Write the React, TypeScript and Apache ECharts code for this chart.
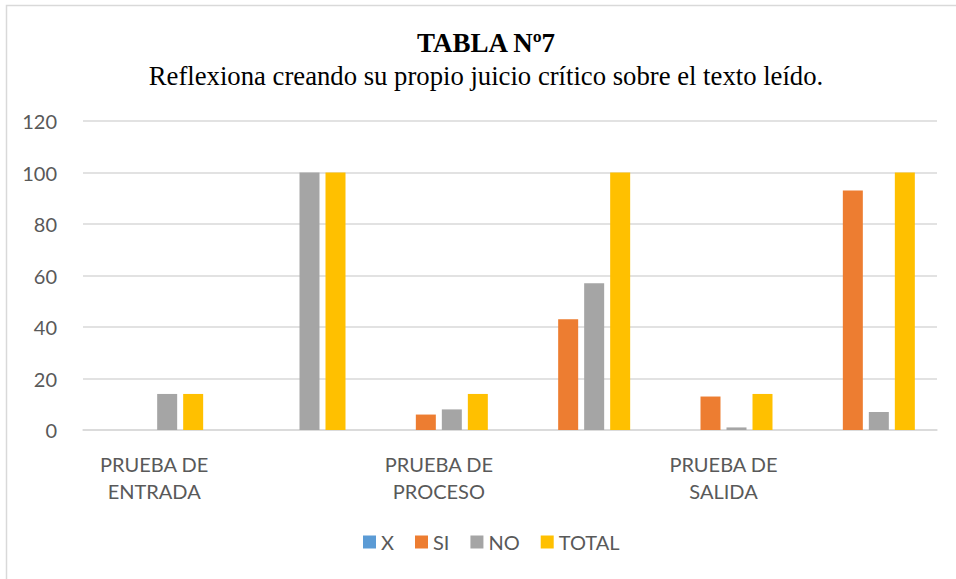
import React, { useEffect, useRef } from "react";
import * as echarts from "echarts";

const titleText = "TABLA Nº7";
const subtitleText = "Reflexiona creando su propio juicio crítico sobre el texto leído.";
const categories = ["PRUEBA DE\nENTRADA", "", "PRUEBA DE\nPROCESO", "", "PRUEBA DE\nSALIDA", ""];
const seriesNames = ["X", "SI", "NO", "TOTAL"];
const xValues = [0, 0, 0, 0, 0, 0];
const siValues = [0, 0, 6, 43, 13, 93];
const noValues = [14, 100, 8, 57, 1, 7];
const totalValues = [14, 100, 14, 100, 14, 100];
const yTicks = [0, 20, 40, 60, 80, 100, 120];
const colors = ["#5B9BD5", "#ED7D31", "#A5A5A5", "#FFC000"];

const axisFont = "Lato, 'Noto Sans', sans-serif";
const serif = "'Liberation Serif', 'Times New Roman', serif";

export default function App() {
  const ref = useRef<HTMLDivElement>(null);
  useEffect(() => {
    if (!ref.current) return;
    const chart = echarts.init(ref.current, null, { renderer: "svg" });
    const values = [xValues, siValues, noValues, totalValues];
    chart.setOption({
      animation: false,
      backgroundColor: "#ffffff",
      graphic: [
        {
          type: "rect",
          shape: { x: 6.5, y: 5.5, width: 1000, height: 1000 },
          style: { fill: "none", stroke: "#d9d9d9", lineWidth: 1.5 },
          silent: true,
        },
        {
          type: "text",
          x: 486,
          y: 43,
          style: {
            text: titleText,
            font: `bold 27px ${serif}`,
            fill: "#000000",
            textAlign: "center",
            textVerticalAlign: "middle",
          },
        },
        {
          type: "text",
          x: 486,
          y: 76,
          style: {
            text: subtitleText,
            font: `26.7px ${serif}`,
            fill: "#000000",
            textAlign: "center",
            textVerticalAlign: "middle",
          },
        },
      ],
      legend: {
        data: seriesNames,
        bottom: 22,
        left: 358,
        itemWidth: 13,
        itemHeight: 13,
        itemGap: 21,
        icon: "rect",
        textStyle: { color: "#595959", fontSize: 20, fontFamily: axisFont },
      },
      grid: { left: 83, right: 19, top: 121, bottom: 149, containLabel: false },
      xAxis: {
        type: "category",
        data: categories,
        axisLine: { lineStyle: { color: "#d9d9d9", width: 1.5 } },
        axisTick: { show: false },
        axisLabel: {
          interval: 0,
          color: "#595959",
          fontSize: 20,
          fontFamily: axisFont,
          lineHeight: 27,
          margin: 20,
        },
      },
      yAxis: {
        type: "value",
        min: 0,
        max: 120,
        interval: 20,
        axisLine: { show: false },
        axisTick: { show: false },
        splitLine: { lineStyle: { color: "#d9d9d9", width: 1.5 } },
        axisLabel: {
          color: "#595959",
          fontSize: 20,
          fontFamily: axisFont,
          margin: 26,
          formatter: (v: number) => (yTicks.includes(v) ? String(v) : ""),
        },
      },
      series: seriesNames.map((name, i) => ({
        name,
        type: "bar",
        data: values[i],
        barWidth: 20,
        barGap: "30%",
        itemStyle: { color: colors[i] },
      })),
    });
    return () => chart.dispose();
  }, []);
  return (
    <div
      ref={ref}
      style={{ position: "fixed", left: 0, top: 0, width: 956, height: 579 }}
    />
  );
}
